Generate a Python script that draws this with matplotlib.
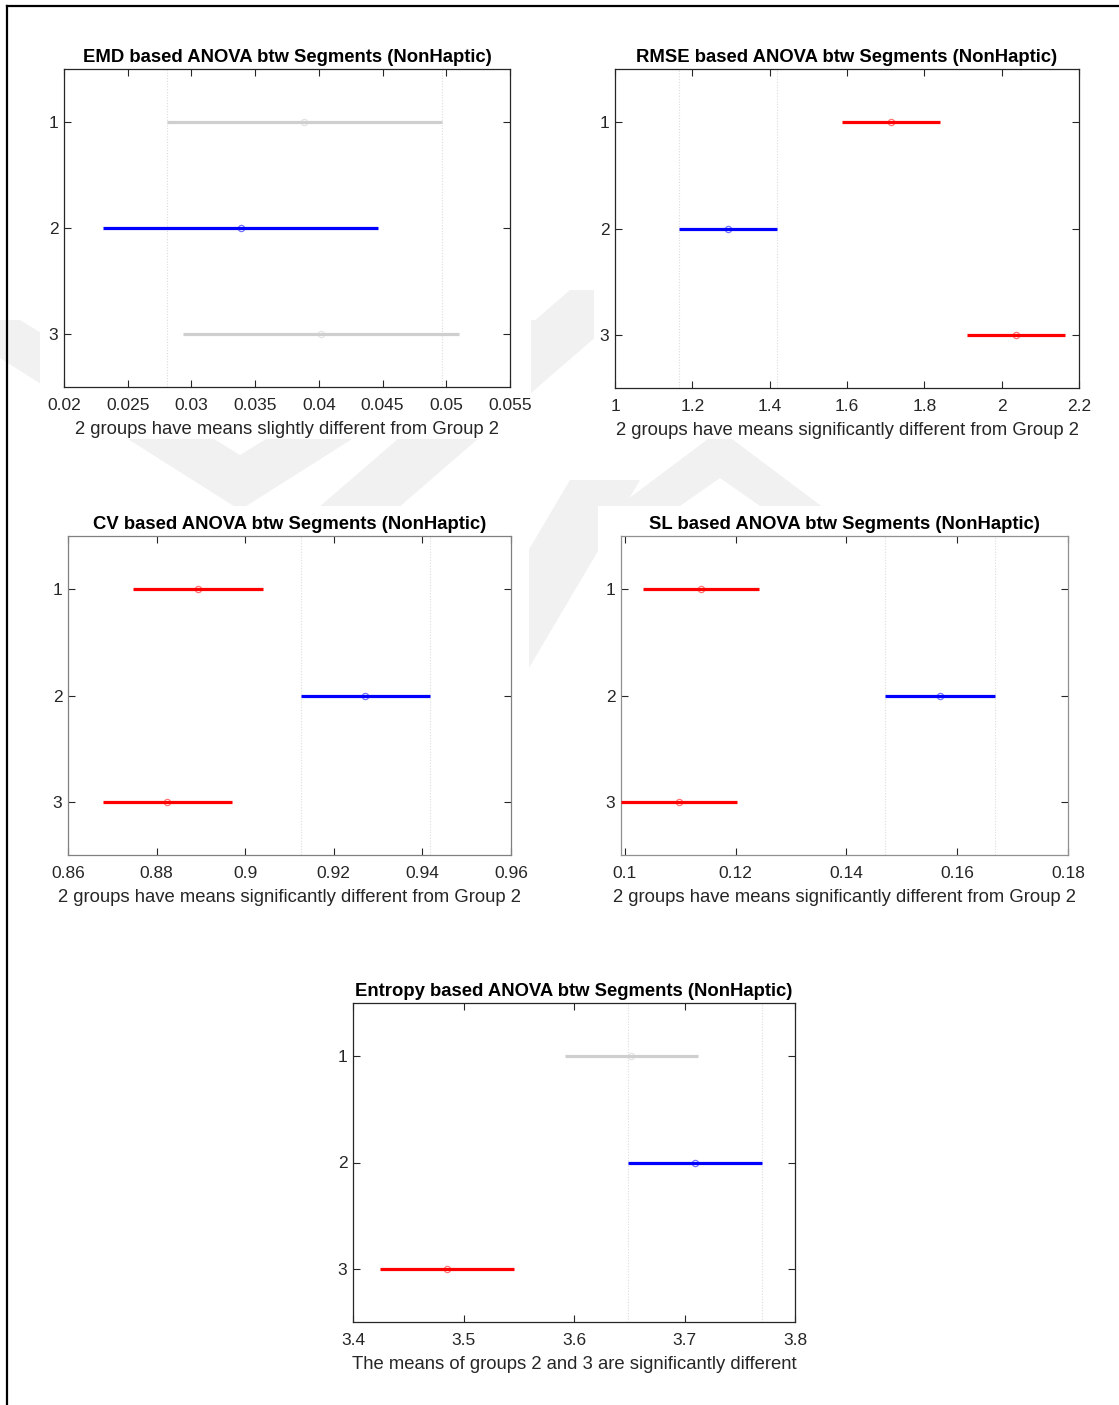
import matplotlib
matplotlib.use("Agg")
import matplotlib.pyplot as plt
from matplotlib.patches import Polygon, Rectangle
from matplotlib.lines import Line2D
from matplotlib.ticker import FuncFormatter

plt.rcParams['font.family'] = ['Liberation Sans', 'DejaVu Sans']

W, H = 1119, 1405
DPI = 100

# ---- data: multiple-comparison intervals (lower, mean, upper) per group ----
groups = [1, 2, 3]

emd_lower = [0.02805, 0.02309, 0.02937]
emd_mean = [0.03882, 0.03388, 0.04016]
emd_upper = [0.04967, 0.04468, 0.05096]
emd_colors = ['#cfcfcf', '#0000ff', '#cfcfcf']
emd_ref = [0.02805, 0.04967]

rmse_lower = [1.587, 1.1664, 1.9097]
rmse_mean = [1.7146, 1.2921, 2.0364]
rmse_upper = [1.8413, 1.4197, 2.163]
rmse_colors = ['#ff0000', '#0000ff', '#ff0000']
rmse_ref = [1.1664, 1.4197]

cv_lower = [0.87475, 0.91254, 0.86782]
cv_mean = [0.88933, 0.92696, 0.88232]
cv_upper = [0.90392, 0.94163, 0.89699]
cv_colors = ['#ff0000', '#0000ff', '#ff0000']
cv_ref = [0.91254, 0.94163]

sl_lower = [0.10329, 0.14696, 0.09929]
sl_mean = [0.11378, 0.15688, 0.10979]
sl_upper = [0.12422, 0.16680, 0.12029]
sl_colors = ['#ff0000', '#0000ff', '#ff0000']
sl_ref = [0.14696, 0.16680]

ent_lower = [3.5916, 3.6492, 3.4244]
ent_mean = [3.6519, 3.7098, 3.4851]
ent_upper = [3.7125, 3.7704, 3.5457]
ent_colors = ['#cfcfcf', '#0000ff', '#ff0000']
ent_ref = [3.6492, 3.7704]

titles = [
    "EMD based ANOVA btw Segments (NonHaptic)",
    "RMSE based ANOVA btw Segments (NonHaptic)",
    "CV based ANOVA btw Segments (NonHaptic)",
    "SL based ANOVA btw Segments (NonHaptic)",
    "Entropy based ANOVA btw Segments (NonHaptic)",
]
xlabels = [
    "2 groups have means slightly different from Group 2",
    "2 groups have means significantly different from Group 2",
    "2 groups have means significantly different from Group 2",
    "2 groups have means significantly different from Group 2",
    "The means of groups 2 and 3 are significantly different",
]
xlims = [(0.02, 0.055), (1.0, 2.2), (0.86, 0.96), (0.0993, 0.18), (3.4, 3.8)]
xticks = [
    [0.02, 0.025, 0.03, 0.035, 0.04, 0.045, 0.05, 0.055],
    [1.0, 1.2, 1.4, 1.6, 1.8, 2.0, 2.2],
    [0.86, 0.88, 0.90, 0.92, 0.94, 0.96],
    [0.10, 0.12, 0.14, 0.16, 0.18],
    [3.4, 3.5, 3.6, 3.7, 3.8],
]

panels = [
    (emd_lower, emd_mean, emd_upper, emd_colors, emd_ref),
    (rmse_lower, rmse_mean, rmse_upper, rmse_colors, rmse_ref),
    (cv_lower, cv_mean, cv_upper, cv_colors, cv_ref),
    (sl_lower, sl_mean, sl_upper, sl_colors, sl_ref),
    (ent_lower, ent_mean, ent_upper, ent_colors, ent_ref),
]

# axes boxes in pixels: left, top, right, bottom
boxes_px = [
    (64, 69, 510, 387),
    (615, 69, 1079, 388),
    (68, 536, 511, 855),
    (621, 536, 1068, 855),
    (353, 1003, 795, 1322),
]
spine_colors = ['#262626', '#262626', '#808080', '#909090', '#262626']

fig = plt.figure(figsize=(W / DPI, H / DPI), dpi=DPI)
fig.patch.set_facecolor('white')


def px_poly(pts, **kw):
    return Polygon([(x / W, 1 - y / H) for x, y in pts], closed=True,
                   transform=fig.transFigure, **kw)


# faint page watermark behind the panels
wm = '#f1f1f1'
shapes = [
    [(-60, 320), (20, 320), (240, 455), (460, 320), (540, 320), (240, 510)],
    [(310, 515), (390, 515), (650, 290), (570, 290)],
    [(440, 700), (510, 700), (640, 480), (570, 480)],
    [(600, 520), (720, 430), (840, 520), (780, 520), (720, 478), (660, 520)],
]
for s in shapes:
    fig.patches.append(px_poly(s, facecolor=wm, edgecolor='none', zorder=0))

# white backing of each panel image
backs = [(40, 30, 531, 439), (594, 30, 1100, 439), (38, 506, 529, 915),
         (598, 506, 1100, 915), (320, 965, 830, 1395)]
for l, t, r, b in backs:
    fig.patches.append(Rectangle((l / W, 1 - b / H), (r - l) / W, (b - t) / H,
                                 transform=fig.transFigure, facecolor='white',
                                 edgecolor='none', zorder=0.5))

fmt = FuncFormatter(lambda v, p: f"{v:g}")

for i, (lo, mu, hi, cols, ref) in enumerate(panels):
    l, t, r, b = boxes_px[i]
    ax = fig.add_axes([l / W, 1 - b / H, (r - l) / W, (b - t) / H])
    ax.set_zorder(2)
    ax.set_facecolor('white')
    for xv in ref:
        ax.axvline(xv, color='#dcdcdc', lw=0.8, ls=(0, (1, 1.5)), zorder=1)
    for g, a, m, c, col in zip(groups, lo, mu, hi, cols):
        ax.plot([a, c], [g, g], color=col, lw=2.3, solid_capstyle='butt', zorder=3)
        ax.plot([m], [g], marker='o', ms=4.5, mfc='none', mec=col, mew=0.9,
                alpha=0.55, zorder=4)
    ax.set_xlim(*xlims[i])
    ax.set_ylim(3.5, 0.5)
    ax.set_xticks(xticks[i])
    ax.xaxis.set_major_formatter(fmt)
    ax.set_yticks(groups)
    ax.set_yticklabels([str(g) for g in groups])
    ax.tick_params(direction='in', length=5, width=0.8, colors='#262626',
                   top=True, right=True, labelsize=12.5, pad=8)
    ax.tick_params(axis='y', pad=4)
    for sp in ax.spines.values():
        sp.set_color(spine_colors[i])
        sp.set_linewidth(0.9)
    ax.set_title(titles[i], fontsize=13.3, fontweight='bold', color='black', pad=5)
    ax.set_xlabel(xlabels[i], fontsize=13.3, color='#262626', labelpad=6)

# page frame on the left and top edges
fig.lines.append(Line2D([7 / W, 7 / W], [0, 1 - 6 / H], transform=fig.transFigure,
                        color='black', lw=1.6))
fig.lines.append(Line2D([7 / W, 1], [1 - 6 / H, 1 - 6 / H], transform=fig.transFigure,
                        color='black', lw=1.6))

fig.savefig('out.png', dpi=DPI, facecolor='white')
